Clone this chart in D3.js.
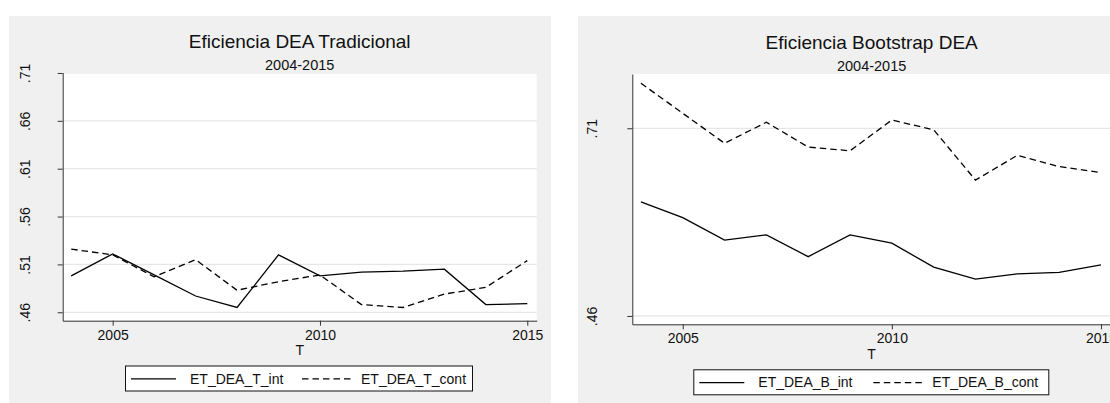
<!DOCTYPE html>
<html>
<head>
<meta charset="utf-8">
<script src="https://cdnjs.cloudflare.com/ajax/libs/d3/7.8.5/d3.min.js"></script>
<style>
  body { margin: 0; background: #fff; }
  svg { display: block; font-family: "Liberation Sans", Arial, sans-serif; }
</style>
</head>
<body>
<svg width="1110" height="403"></svg>
<script>
var years = [2004, 2005, 2006, 2007, 2008, 2009, 2010, 2011, 2012, 2013, 2014, 2015];

// DEA tradicional
var etDeaTInt  = [.498, .521, .499, .477, .465, .520, .498, .502, .503, .505, .468, .469];
var etDeaTCont = [.526, .520, .497, .515, .483, .492, .499, .468, .465, .479, .486, .514];

// Bootstrap DEA
var etDeaBInt  = [.612, .591, .561, .568, .539, .568, .557, .525, .509, .516, .518, .528];
var etDeaBCont = [.770, .730, .690, .718, .685, .680, .721, .708, .641, .674, .659, .651];

var xTicks = [2005, 2010, 2015];
var yTicksT = [.46, .51, .56, .61, .66, .71];
var yTicksB = [.46, .71];

var svg = d3.select("svg");

function drawPanel(p) {
    // fondo gris del grafico
    svg.append("rect")
        .attr("x", p.bgX).attr("y", 16)
        .attr("width", p.bgW).attr("height", 400)
        .attr("fill", "#f0f0f0");

    var xScale = d3.scaleLinear()
                    .domain(p.xDomain)
                    .range([p.left, p.right]);
    var yScale = d3.scaleLinear()
                    .domain(p.yDomain)
                    .range([p.bottom, p.top]);

    svg.append("rect")
        .attr("x", p.left).attr("y", p.top)
        .attr("width", p.right - p.left).attr("height", p.bottom - p.top)
        .attr("fill", "#fff");

    // grid
    svg.append("g")
        .selectAll("line")
        .data(p.yTicks)
        .enter()
        .append("line")
        .attr("x1", p.left).attr("x2", p.right)
        .attr("y1", d => yScale(d)).attr("y2", d => yScale(d))
        .attr("stroke", "#e6e6e6")
        .attr("stroke-width", 1.2);

    var line = d3.line()
                .x((d, i) => xScale(years[i]))
                .y(d => yScale(d));

    svg.append("path")
        .datum(p.intData)
        .attr("d", line)
        .attr("fill", "none")
        .attr("stroke", "#000")
        .attr("stroke-width", 1.3);

    svg.append("path")
        .datum(p.contData)
        .attr("d", line)
        .attr("fill", "none")
        .attr("stroke", "#000")
        .attr("stroke-width", 1.3)
        .attr("stroke-dasharray", "6.5,4");

    var xAxis = d3.axisBottom(xScale)
                    .tickValues(xTicks)
                    .tickFormat(d3.format("d"))
                    .tickSize(5)
                    .tickSizeOuter(0)
                    .tickPadding(4);
    var yAxis = d3.axisLeft(yScale)
                    .tickValues(p.yTicks)
                    .tickFormat(d => d3.format(".2f")(d).replace(/^0/, ""))
                    .tickSize(5)
                    .tickSizeOuter(0);

    var gx = svg.append("g")
        .attr("transform", `translate(0, ${p.bottom})`)
        .call(xAxis);
    gx.select(".domain").attr("stroke", "#333");
    gx.selectAll(".tick line").attr("stroke", "#333");
    gx.selectAll(".tick text")
        .attr("font-size", 14)
        .attr("fill", "#111")
        .attr("font-family", null);

    var gy = svg.append("g")
        .attr("transform", `translate(${p.left}, 0)`)
        .call(yAxis);
    gy.select(".domain").attr("stroke", "#333");
    gy.selectAll(".tick line").attr("stroke", "#333");
    gy.selectAll(".tick text").remove();
    gy.selectAll(".tick")
        .append("text")
        .attr("transform", `translate(${p.yLabelX}, 0) rotate(-90)`)
        .attr("text-anchor", "middle")
        .attr("font-size", 14)
        .attr("fill", "#111")
        .text(d => d3.format(".2f")(d).replace(/^0/, ""));

    var cx = (p.left + p.right) / 2;
    svg.append("text")
        .attr("x", cx).attr("y", p.titleY)
        .attr("text-anchor", "middle")
        .attr("font-size", 19)
        .attr("fill", "#111")
        .text(p.title);
    svg.append("text")
        .attr("x", cx).attr("y", p.titleY + 21.5)
        .attr("text-anchor", "middle")
        .attr("font-size", 14.5)
        .attr("fill", "#111")
        .text("2004-2015");

    svg.append("text")
        .attr("x", cx).attr("y", p.bottom + 34.5)
        .attr("text-anchor", "middle")
        .attr("font-size", 14)
        .attr("fill", "#111")
        .text("T");

    // leyenda
    var lg = svg.append("g").attr("transform", `translate(${p.legX}, ${p.legY})`);
    lg.append("rect")
        .attr("x", 0.5).attr("y", 0.5)
        .attr("width", p.legW).attr("height", 25)
        .attr("fill", "#fff")
        .attr("stroke", "#111");
    lg.append("line")
        .attr("x1", 6).attr("x2", 51).attr("y1", 13.3).attr("y2", 13.3)
        .attr("stroke", "#000").attr("stroke-width", 1.3);
    lg.append("text")
        .attr("x", 65).attr("y", 18)
        .attr("font-size", 14).attr("fill", "#111")
        .text(p.names[0]);
    lg.append("line")
        .attr("x1", p.legDashX).attr("x2", p.legDashX + 49).attr("y1", 13.3).attr("y2", 13.3)
        .attr("stroke", "#000").attr("stroke-width", 1.3)
        .attr("stroke-dasharray", "6.5,4");
    lg.append("text")
        .attr("x", p.legDashX + 59).attr("y", 18)
        .attr("font-size", 14).attr("fill", "#111")
        .text(p.names[1]);
}

drawPanel({
    bgX: 9, bgW: 542,
    left: 62.7, right: 536.7, top: 72.5, bottom: 320.7,
    xDomain: [2003.795, 2015.227],
    yDomain: [.4512, .7105],
    yTicks: yTicksT,
    yLabelX: -33,
    intData: etDeaTInt, contData: etDeaTCont,
    title: "Eficiencia DEA Tradicional",
    titleY: 48.3,
    names: ["ET_DEA_T_int", "ET_DEA_T_cont"],
    legX: 125, legY: 365.5, legW: 347, legDashX: 177
});

drawPanel({
    bgX: 578, bgW: 540,
    left: 632.3, right: 1111, top: 74, bottom: 324.3,
    xDomain: [2003.794, 2015.24],
    yDomain: [.4489, .7823],
    yTicks: yTicksB,
    yLabelX: -35,
    intData: etDeaBInt, contData: etDeaBCont,
    title: "Eficiencia Bootstrap DEA",
    titleY: 49,
    names: ["ET_DEA_B_int", "ET_DEA_B_cont"],
    legX: 693.3, legY: 369.3, legW: 355, legDashX: 180
});
</script>
</body>
</html>
